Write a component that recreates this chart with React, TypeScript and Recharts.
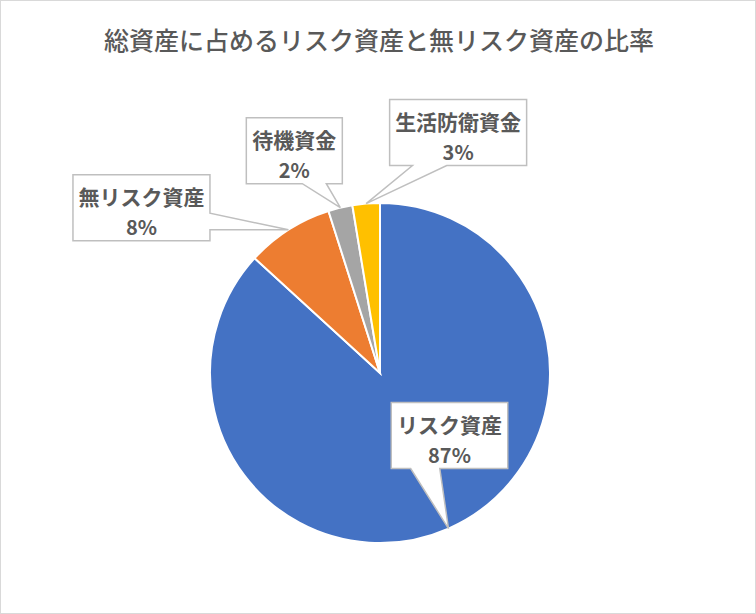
import React from "react";
import { PieChart, Pie, Cell } from "recharts";

const title = "総資産に占めるリスク資産と無リスク資産の比率";
const names = ["リスク資産", "無リスク資産", "待機資金", "生活防衛資金"];
const shares = [86.8, 8.3, 2.3, 2.6];
const colors = ["#4472C4", "#ED7D31", "#A5A5A5", "#FFC000"];

// where each callout box sits, measured from the point it aims at
const calloutOffset: Record<string, { dx: number; dy: number }> = {
  リスク資産: { dx: 1, dy: -93 },
  無リスク資産: { dx: -147, dy: -22 },
  待機資金: { dx: -46, dy: -57 },
  生活防衛資金: { dx: 92, dy: -71 },
};

const data = names.map((name, i) => ({ name, value: shares[i] }));

const FONT = '"Noto Sans CJK JP", "Noto Sans", sans-serif';
const TEXT = "#595959";
const RADIAN = Math.PI / 180;

// rectangle with a wedge, same rules as Excel's wedgeRectCallout
function calloutPath(l: number, t: number, w: number, h: number, tx: number, ty: number) {
  const r = l + w;
  const b = t + h;
  const dxPos = tx - (l + w / 2);
  const dyPos = ty - (t + h / 2);
  const dz = Math.abs(dyPos) - Math.abs((dxPos * h) / w);
  const x1 = l + (w * (dxPos > 0 ? 7 : 2)) / 12;
  const x2 = l + (w * (dxPos > 0 ? 10 : 5)) / 12;
  const y1 = t + (h * (dyPos > 0 ? 7 : 2)) / 12;
  const y2 = t + (h * (dyPos > 0 ? 10 : 5)) / 12;
  const tip = `L${tx},${ty}`;
  if (dz > 0) {
    if (dyPos > 0)
      return `M${l},${t}L${r},${t}L${r},${b}L${x2},${b}${tip}L${x1},${b}L${l},${b}Z`;
    return `M${l},${t}L${x1},${t}${tip}L${x2},${t}L${r},${t}L${r},${b}L${l},${b}Z`;
  }
  if (dxPos > 0)
    return `M${l},${t}L${r},${t}L${r},${y1}${tip}L${r},${y2}L${r},${b}L${l},${b}Z`;
  return `M${l},${t}L${r},${t}L${r},${b}L${l},${b}L${l},${y2}${tip}L${l},${y1}Z`;
}

const renderCallout = (props: any) => {
  const { cx, cy, midAngle, outerRadius, name, percent } = props;
  const tx = cx + outerRadius * Math.cos(-midAngle * RADIAN);
  const ty = cy + outerRadius * Math.sin(-midAngle * RADIAN);
  const off = calloutOffset[name] || { dx: 0, dy: -80 };
  const w = name.length * 20.5 + 14;
  const h = 66;
  const bx = tx + off.dx;
  const by = ty + off.dy;
  return (
    <g>
      <path
        d={calloutPath(bx - w / 2, by - h / 2, w, h, tx, ty)}
        fill="#FFFFFF"
        stroke="#BFBFBF"
        strokeWidth={1.5}
      />
      <text
        x={bx}
        y={by - 12}
        textAnchor="middle"
        dominantBaseline="central"
        fontFamily={FONT}
        fontSize={21}
        fontWeight={700}
        fill={TEXT}
      >
        {name}
      </text>
      <text
        x={bx}
        y={by + 19}
        textAnchor="middle"
        dominantBaseline="central"
        fontFamily={FONT}
        fontSize={20}
        fontWeight={700}
        fill={TEXT}
      >
        {`${Math.round(percent * 100)}%`}
      </text>
    </g>
  );
};

export default function App() {
  return (
    <div
      style={{
        position: "absolute",
        left: 0,
        top: 0,
        width: 756,
        height: 614,
        background: "#FFFFFF",
        border: "1px solid #D9D9D9",
        boxSizing: "border-box",
      }}
    >
      <div
        style={{
          position: "absolute",
          left: 0,
          top: 22,
          width: 756,
          textAlign: "center",
          fontFamily: FONT,
          fontSize: 25,
          fontWeight: 500,
          color: TEXT,
          lineHeight: "32px",
        }}
      >
        {title}
      </div>
      <div style={{ position: "absolute", left: -1, top: -1 }}>
        <PieChart width={756} height={614} margin={{ top: 0, right: 0, bottom: 0, left: 0 }}>
          <Pie
            data={data}
            dataKey="value"
            nameKey="name"
            cx={380}
            cy={373}
            outerRadius={170}
            startAngle={90}
            endAngle={-270}
            stroke="#FFFFFF"
            strokeWidth={2}
            label={renderCallout}
            labelLine={false}
            isAnimationActive={false}
          >
            {data.map((d, i) => (
              <Cell key={d.name} fill={colors[i]} />
            ))}
          </Pie>
        </PieChart>
      </div>
    </div>
  );
}
